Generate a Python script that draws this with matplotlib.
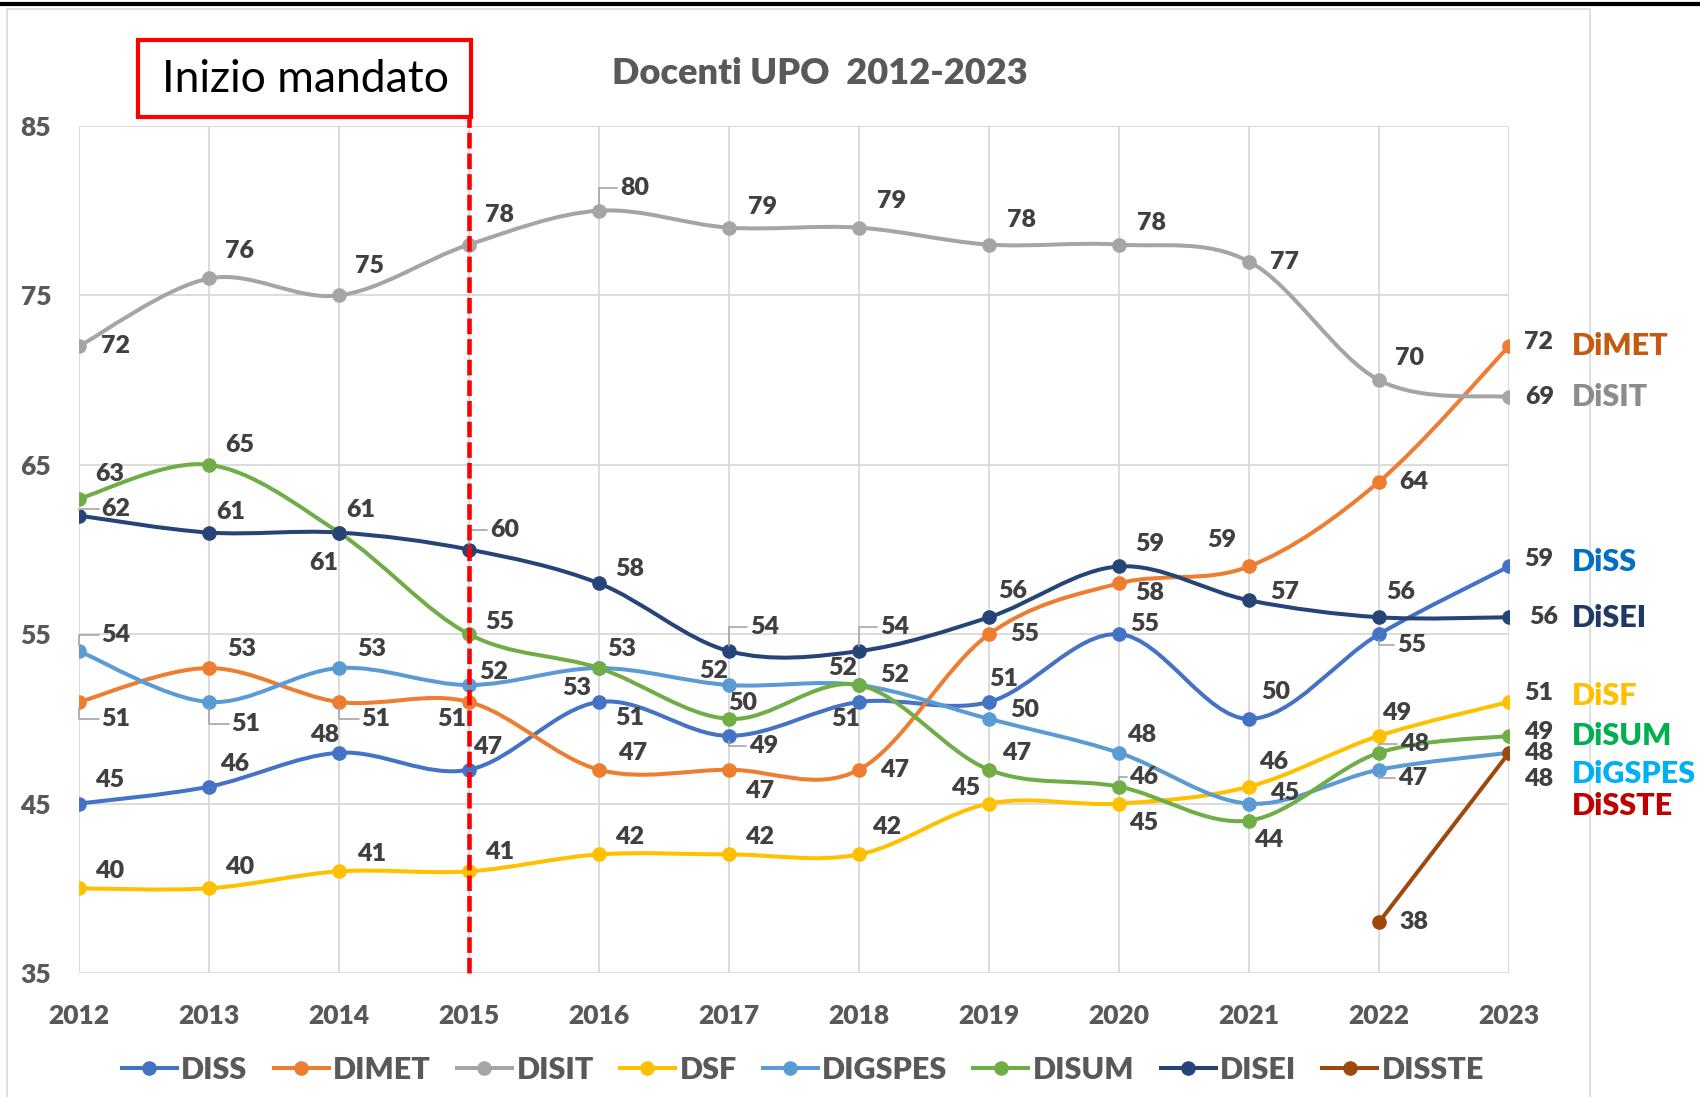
import numpy as np
import matplotlib
matplotlib.use("Agg")
import matplotlib.pyplot as plt
from matplotlib.path import Path
from matplotlib.patches import PathPatch, Rectangle
from matplotlib.lines import Line2D

plt.rcParams['font.family'] = ['Lato', 'DejaVu Sans']

# dati
anni = list(range(2012, 2024))
diss = [45, 46, 48, 47, 51, 49, 51, 51, 55, 50, 55, 59]
dimet = [51, 53, 51, 51, 47, 47, 47, 55, 58, 59, 64, 72]
disit = [72, 76, 75, 78, 80, 79, 79, 78, 78, 77, 70, 69]
dsf = [40, 40, 41, 41, 42, 42, 42, 45, 45, 46, 49, 51]
digspes = [54, 51, 53, 52, 53, 52, 52, 50, 48, 45, 47, 48]
disum = [63, 65, 61, 55, 53, 50, 52, 47, 46, 44, 48, 49]
disei = [62, 61, 61, 60, 58, 54, 54, 56, 59, 57, 56, 56]
dissste_anni = [2022, 2023]
dissste = [38, 48]

serie = ["DISS", "DIMET", "DISIT", "DSF", "DIGSPES", "DISUM", "DISEI", "DISSTE"]
colori = ["#4472C4", "#ED7D31", "#A5A5A5", "#FFC000", "#5B9BD5", "#70AD47", "#264478", "#9E480E"]

nomi_dx = ["DiMET", "DiSIT", "DiSS", "DiSEI", "DiSF", "DiSUM", "DiGSPES", "DiSSTE"]
col_dx = ["#C55A11", "#8C8C8C", "#0070C0", "#203864", "#FFC000", "#00B050", "#00B0F0", "#C00000"]
y_dx = [319, 366, 518, 570, 642, 679, 714, 744]  # px (immagine ridotta)

# offset etichette (px immagine ridotta), allineati agli anni
off = {
    "DISIT": [(34, 0), (28, -25), (28, -27), (28, -27), (33, -21), (31, -19), (30, -25),
              (30, -23), (30, -20), (33, 0), (28, -20), (28, 0)],
    "DIMET": [(34, 16), (30, -18), (34, 16), (-16, 16), (31, -15), (28, 20), (33, 0),
              (33, 0), (28, 9), (-25, -24), (32, 0), (27, -4)],
    "DISS": [(28, -22), (24, -21), (-13, -16), (17, -21), (28, 15), (32, 9), (-12, 16),
             (14, -21), (24, -9), (25, -25), (30, 10), (27, -7)],
    "DSF": [(28, -16), (28, -20), (30, -16), (28, -18), (28, -16), (28, -16), (25, -25),
            (-22, -14), (23, 18), (23, -23), (16, -21), (27, -8)],
    "DIGSPES": [(34, -15), (34, 20), (30, -18), (23, -12), (-21, 18), (-14, -13), (-15, -16),
                (33, -8), (21, -16), (33, -10), (31, 8), (27, 24)],
    "DISUM": [(28, -23), (28, -18), (-14, 28), (28, -11), (21, -18), (13, -15), (33, -9),
              (25, -15), (23, -9), (18, 18), (33, -8), (27, -4)],
    "DISEI": [(34, -6), (20, -19), (20, -21), (33, -18), (28, -13), (33, -22), (33, -22),
              (22, -24), (28, -21), (33, -8), (20, -23), (32, 0)],
    "DISSTE": [(32, 0), (27, 0)],
}
leader = {("DISIT", 4), ("DIMET", 0), ("DIMET", 2), ("DISS", 5), ("DISS", 10),
          ("DIGSPES", 0), ("DIGSPES", 1), ("DIGSPES", 10), ("DISUM", 8), ("DISUM", 10),
          ("DISEI", 0), ("DISEI", 3), ("DISEI", 5), ("DISEI", 6)}

K = 1.084 * 0.72  # px ridotti -> punti


def smooth_path(xs, ys):
    pts = np.column_stack([xs, ys]).astype(float)
    verts = [pts[0]]
    codes = [Path.MOVETO]
    n = len(pts)
    for i in range(n - 1):
        p0 = pts[i - 1] if i > 0 else pts[i]
        p1, p2 = pts[i], pts[i + 1]
        p3 = pts[i + 2] if i + 2 < n else pts[i + 1]
        verts += [p1 + (p2 - p0) / 6, p2 - (p3 - p1) / 6, p2]
        codes += [Path.CURVE4] * 3
    return Path(verts, codes)


fig = plt.figure(figsize=(17, 10.97), dpi=100)
fig.patch.set_facecolor("white")
ax = fig.add_axes([79 / 1700, 1 - 973 / 1097, 1430 / 1700, 847 / 1097])

# cornice
fig.add_artist(Line2D([0, 1], [1 - 4 / 1097] * 2, color="black", lw=3, transform=fig.transFigure))
fig.add_artist(Rectangle((7 / 1700, -0.01), 1583 / 1700, 1 - 9 / 1097 + 0.01, fill=False,
                         ec="#D9D9D9", lw=1.2, transform=fig.transFigure))

dati = [diss, dimet, disit, dsf, digspes, disum, disei, dissste]
for nome, col, vals in zip(serie, colori, dati):
    xs = dissste_anni if nome == "DISSTE" else anni
    ax.add_patch(PathPatch(smooth_path(xs, vals), fill=False, ec=col, lw=2.9, zorder=3,
                           capstyle="round", joinstyle="round"))
    ax.plot(xs, vals, "o", color=col, ms=9.5, zorder=4)
    for i, (x, v) in enumerate(zip(xs, vals)):
        dx, dy = off[nome][i]
        kw = {}
        if (nome, i) in leader:
            kw["arrowprops"] = dict(arrowstyle="-", color="#A6A6A6", lw=1.2, shrinkA=0, shrinkB=4,
                                    connectionstyle="angle,angleA=0,angleB=90,rad=0")
        ax.annotate(str(v), (x, v), xytext=(dx * K, -dy * K), textcoords="offset points",
                    ha="center", va="center", fontsize=18, fontweight=800,
                    color="#404040", zorder=5, annotation_clip=False, **kw)

# nomi a destra
for nome, col, yy in zip(nomi_dx, col_dx, y_dx):
    fig.text(1450 * 1.084 / 1700, 1 - yy * 1.084 / 1097, nome, ha="left", va="center",
             fontsize=22, fontweight=800, color=col)

ax.set_xlim(2012, 2023)
ax.set_ylim(35, 85)
ax.set_xticks(anni)
ax.set_yticks([35, 45, 55, 65, 75, 85])
ax.grid(True, color="#D9D9D9", lw=1.3)
ax.set_axisbelow(True)
for s in ax.spines.values():
    s.set_visible(False)
ax.tick_params(length=0, labelsize=19, labelcolor="#595959")
ax.tick_params(axis="x", pad=22)
ax.tick_params(axis="y", pad=20, labelsize=19)
for t in ax.get_xticklabels() + ax.get_yticklabels():
    t.set_fontweight(800)

# linea mandato
ax.axvline(2015, ymin=0, ymax=1 + 9 / 847, color="#FF0000", lw=3.3, dashes=(3.4, 1.1),
           clip_on=False, zorder=6)
fig.add_artist(Rectangle((138 / 1700, 1 - 117 / 1097), 333 / 1700, 77 / 1097, fill=False,
                         ec="#FF0000", lw=3, transform=fig.transFigure))
fig.text(305 / 1700, 1 - 79 / 1097, "Inizio mandato", ha="center", va="center",
         fontsize=32, color="black")

fig.text(820 / 1700, 1 - 74 / 1097, "Docenti UPO  2012-2023", ha="center", va="center",
         fontsize=26, fontweight=800, color="#595959")

handles = [Line2D([], [], color=c, lw=2.9, marker="o", ms=9.5) for c in colori]
leg = fig.legend(handles, serie, loc="center", bbox_to_anchor=(803 / 1700, 1 - 1070 / 1097),
                 ncol=8, frameon=False, handlelength=1.8, handletextpad=0.15,
                 columnspacing=0.85, prop=dict(size=22, weight=800))
for t in leg.get_texts():
    t.set_color("#595959")

fig.savefig("out.png", dpi=100)
